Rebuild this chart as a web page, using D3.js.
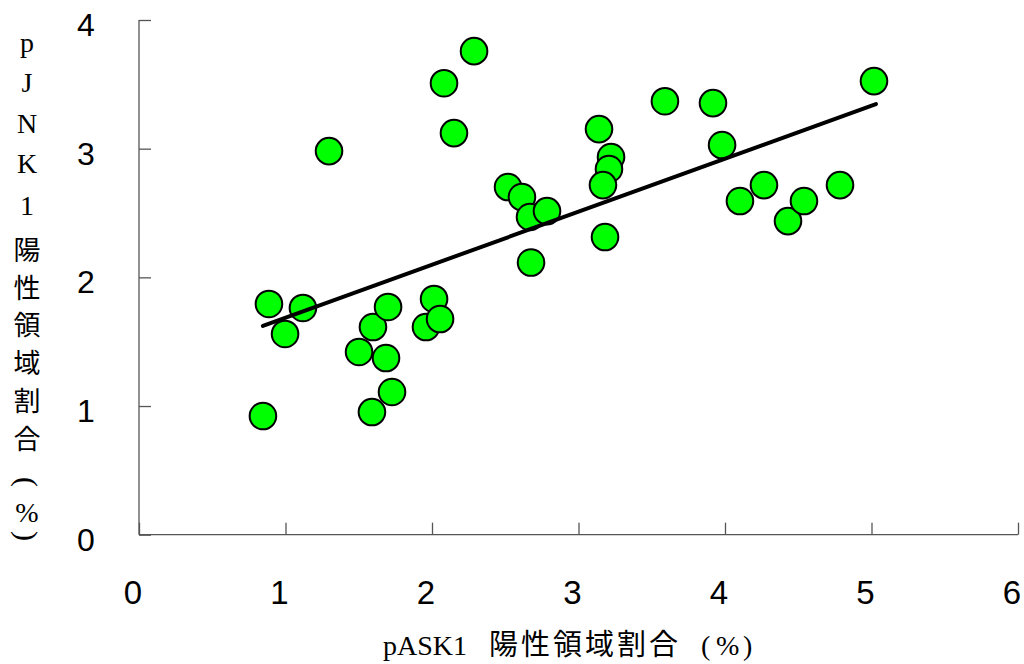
<!DOCTYPE html>
<html><head><meta charset="utf-8">
<script src="https://cdn.jsdelivr.net/npm/d3@7"></script>
<style>
html,body{margin:0;padding:0;background:#fff;}
svg{display:block;}
</style></head>
<body>
<svg id="chart" width="1024" height="664"></svg>
<script>
// pASK1 positive area (%)
const pASK1 = [0.846,0.887,0.997,1.119,1.297,1.502,1.597,1.590,1.686,1.700,1.727,1.959,2.014,2.055,2.082,2.150,2.287,2.519,2.614,2.669,2.676,2.785,3.140,3.222,3.208,3.167,3.181,3.590,3.918,3.980,4.102,4.266,4.430,4.539,4.785,5.017];
// pJNK1 positive area (%)
const pJNK1 = [0.922,1.793,1.560,1.762,2.981,1.420,1.614,0.953,1.373,1.770,1.109,1.614,1.832,1.676,3.509,3.121,3.758,2.702,2.624,2.469,2.115,2.515,3.152,2.935,2.842,2.717,2.313,3.369,3.354,3.028,2.593,2.717,2.437,2.593,2.717,3.525];
// trend line endpoints
const trendX = [0.846, 5.03];
const trendY = [1.622, 3.347];
const xTicks = [0,1,2,3,4,5,6];
const yTicks = [0,1,2,3,4];
const xTitleParts = ["pASK1","陽性領域割合","(","%",")"];
const yTitleChars = ["p","J","N","K","1","陽","性","領","域","割","合","(","%",")"];

const svg = d3.select("#chart");
const x = d3.scaleLinear().domain([0,6]).range([139,1018]);
const y = d3.scaleLinear().domain([0,4]).range([534.7,20]);

const axisColor = "#555";
const gx = svg.append("g").attr("transform","translate(0,534.7)")
  .call(d3.axisTop(x).tickValues(xTicks).tickSize(12).tickFormat(""));
gx.select(".domain").attr("stroke",axisColor).attr("stroke-width",1.3).attr("d",`M${x(0)},0H${x(6)}`);
gx.selectAll(".tick line").attr("stroke",axisColor).attr("stroke-width",1.3);
const gy = svg.append("g").attr("transform","translate(139,0)")
  .call(d3.axisRight(y).tickValues(yTicks).tickSize(12).tickFormat(""));
gy.select(".domain").attr("stroke",axisColor).attr("stroke-width",1.3).attr("d",`M0,${y(4)}V${y(0)}`);
gy.selectAll(".tick line").attr("stroke",axisColor).attr("stroke-width",1.3);

const numFont = "'Liberation Sans', Arial, sans-serif";
svg.append("g").selectAll("text").data(xTicks).join("text")
  .attr("x",d=>x(d)-6).attr("y",592)
  .attr("text-anchor","middle").attr("dominant-baseline","central")
  .style("font-family",numFont).style("font-size","33px").attr("fill","#000")
  .text(d=>d);
svg.append("g").selectAll("text").data(yTicks).join("text")
  .attr("x",86).attr("y",d=>y(d)+5)
  .attr("text-anchor","middle").attr("dominant-baseline","central")
  .style("font-family",numFont).style("font-size","32px").attr("fill","#000")
  .text(d=>d);

// x title
const serif = "'Liberation Serif', serif";
const cjk = "'Noto Sans CJK JP', sans-serif";
const xt = svg.append("text").attr("y",655).attr("fill","#000");
const xPartX = [383, 489, 701, 716, 743];
const xPartFont = [serif, cjk, serif, serif, serif];
const xPartSize = [28, 29, 28, 28, 28];
xTitleParts.forEach((t,i)=>{
  xt.append("tspan").attr("x",xPartX[i])
    .style("font-family",xPartFont[i]).style("font-size",xPartSize[i]+"px")
    .style("letter-spacing", i===1 ? "3px" : "0px")
    .text(t);
});

// y title (vertical, one character per row)
const yPos = [42,82,123,163,205,248,286,323,361,399,437,482,512,536];
const isCJK = c => /[\u3000-\u9fff]/.test(c);
svg.append("g").selectAll("text").data(yTitleChars).join("text")
  .attr("transform",(d,i)=>`translate(27,${yPos[i]})` + ((d==="("||d===")") ? " rotate(90)" : ""))
  .attr("text-anchor","middle").attr("dominant-baseline","central")
  .style("font-family",d=>isCJK(d)?cjk:serif)
  .style("font-size",d=>isCJK(d)?"27px":(d==="("||d===")")?"30px":"28px")
  .attr("fill","#000")
  .text(d=>d);

// points
const pts = pASK1.map((v,i)=>({x:v,y:pJNK1[i]}));
svg.append("g").selectAll("circle").data(pts).join("circle")
  .attr("cx",d=>x(d.x)).attr("cy",d=>y(d.y)).attr("r",13.3)
  .attr("fill","#00ff00").attr("stroke","#000").attr("stroke-width",2);

// trend line
svg.append("line")
  .attr("x1",x(trendX[0])).attr("y1",y(trendY[0]))
  .attr("x2",x(trendX[1])).attr("y2",y(trendY[1]))
  .attr("stroke","#000").attr("stroke-width",4).attr("stroke-linecap","round");
</script>
</body></html>
